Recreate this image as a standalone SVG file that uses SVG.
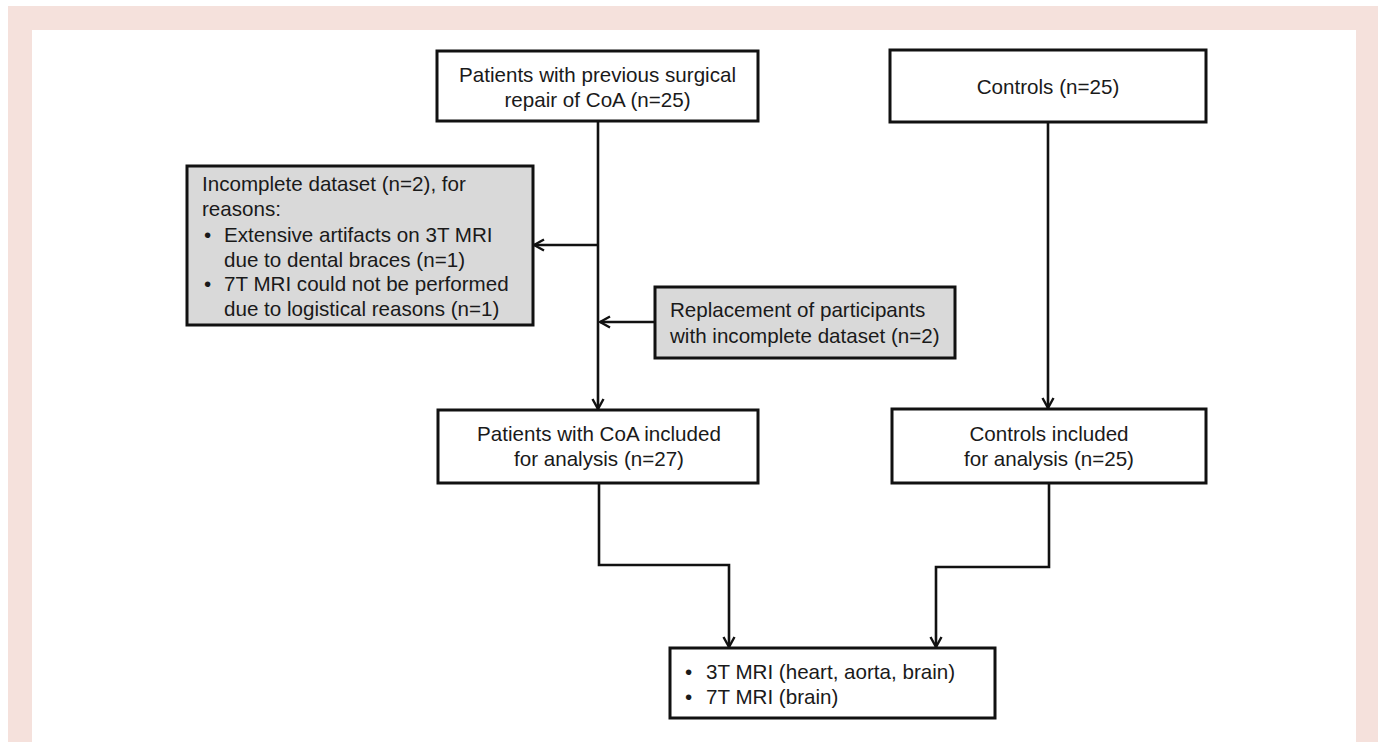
<svg xmlns="http://www.w3.org/2000/svg" width="1386" height="742" viewBox="0 0 1386 742">
<defs>
<style>
.bg{fill:#ffffff}
.frame{fill:#f5e1dc}
.panel{fill:#ffffff}
.box{fill:#ffffff;stroke:#111;stroke-width:3}
.gbox{fill:#d9d9d9;stroke:#111;stroke-width:3}
.t{font-family:"Liberation Sans",Arial,sans-serif;font-size:20.6px;fill:#1a1a1a}
.c{text-anchor:middle}
.conn{fill:none;stroke:#111;stroke-width:2.6;stroke-linejoin:miter}
</style>
<marker id="arr" viewBox="0 0 12 14" refX="11" refY="7" markerWidth="12" markerHeight="14" markerUnits="userSpaceOnUse" orient="auto">
<path d="M1,1.5 L11,7 L1,12.5" fill="none" stroke="#111" stroke-width="2.4"/>
</marker>
</defs>
<rect class="bg" x="0" y="0" width="1386" height="742"/>
<rect class="frame" x="8" y="6" width="1370" height="736"/>
<rect class="panel" x="32" y="30" width="1324" height="712"/>

<g id="connectors">
<path class="conn" d="M598,121 V409" marker-end="url(#arr)"/>
<path class="conn" d="M1048,122 V408" marker-end="url(#arr)"/>
<path class="conn" d="M598,245 H534" marker-end="url(#arr)"/>
<path class="conn" d="M655,322 H600" marker-end="url(#arr)"/>
<path class="conn" d="M599,483 V565 H729 V647" marker-end="url(#arr)"/>
<path class="conn" d="M1049,483 V567 H936 V647" marker-end="url(#arr)"/>
</g>

<g id="node-patients">
<rect class="box" x="437" y="51" width="321" height="70"/>
<text class="t c" x="597.5" y="82">Patients with previous surgical</text>
<text class="t c" x="597.5" y="107">repair of CoA (n=25)</text>
</g>

<g id="node-controls">
<rect class="box" x="890" y="50" width="316" height="72"/>
<text class="t c" x="1048" y="94">Controls (n=25)</text>
</g>

<g id="node-incomplete">
<rect class="gbox" x="187" y="166" width="346" height="159"/>
<text class="t" x="202" y="191">Incomplete dataset (n=2), for</text>
<text class="t" x="202" y="216">reasons:</text>
<text class="t" x="204" y="242">•</text>
<text class="t" x="224" y="242">Extensive artifacts on 3T MRI</text>
<text class="t" x="224" y="267">due to dental braces (n=1)</text>
<text class="t" x="204" y="291">•</text>
<text class="t" x="224" y="291">7T MRI could not be performed</text>
<text class="t" x="224" y="316">due to logistical reasons (n=1)</text>
</g>

<g id="node-replacement">
<rect class="gbox" x="655" y="287" width="300" height="71"/>
<text class="t" x="670" y="317">Replacement of participants</text>
<text class="t" x="670" y="343">with incomplete dataset (n=2)</text>
</g>

<g id="node-patients-included">
<rect class="box" x="438" y="410" width="320" height="73"/>
<text class="t c" x="599" y="441">Patients with CoA included</text>
<text class="t c" x="599" y="466">for analysis (n=27)</text>
</g>

<g id="node-controls-included">
<rect class="box" x="892" y="409" width="314" height="74"/>
<text class="t c" x="1049" y="441">Controls included</text>
<text class="t c" x="1049" y="466">for analysis (n=25)</text>
</g>

<g id="node-mri">
<rect class="box" x="670" y="648" width="325" height="70"/>
<text class="t" x="685" y="679">•</text>
<text class="t" x="706" y="679">3T MRI (heart, aorta, brain)</text>
<text class="t" x="685" y="704">•</text>
<text class="t" x="706" y="704">7T MRI (brain)</text>
</g>
</svg>
